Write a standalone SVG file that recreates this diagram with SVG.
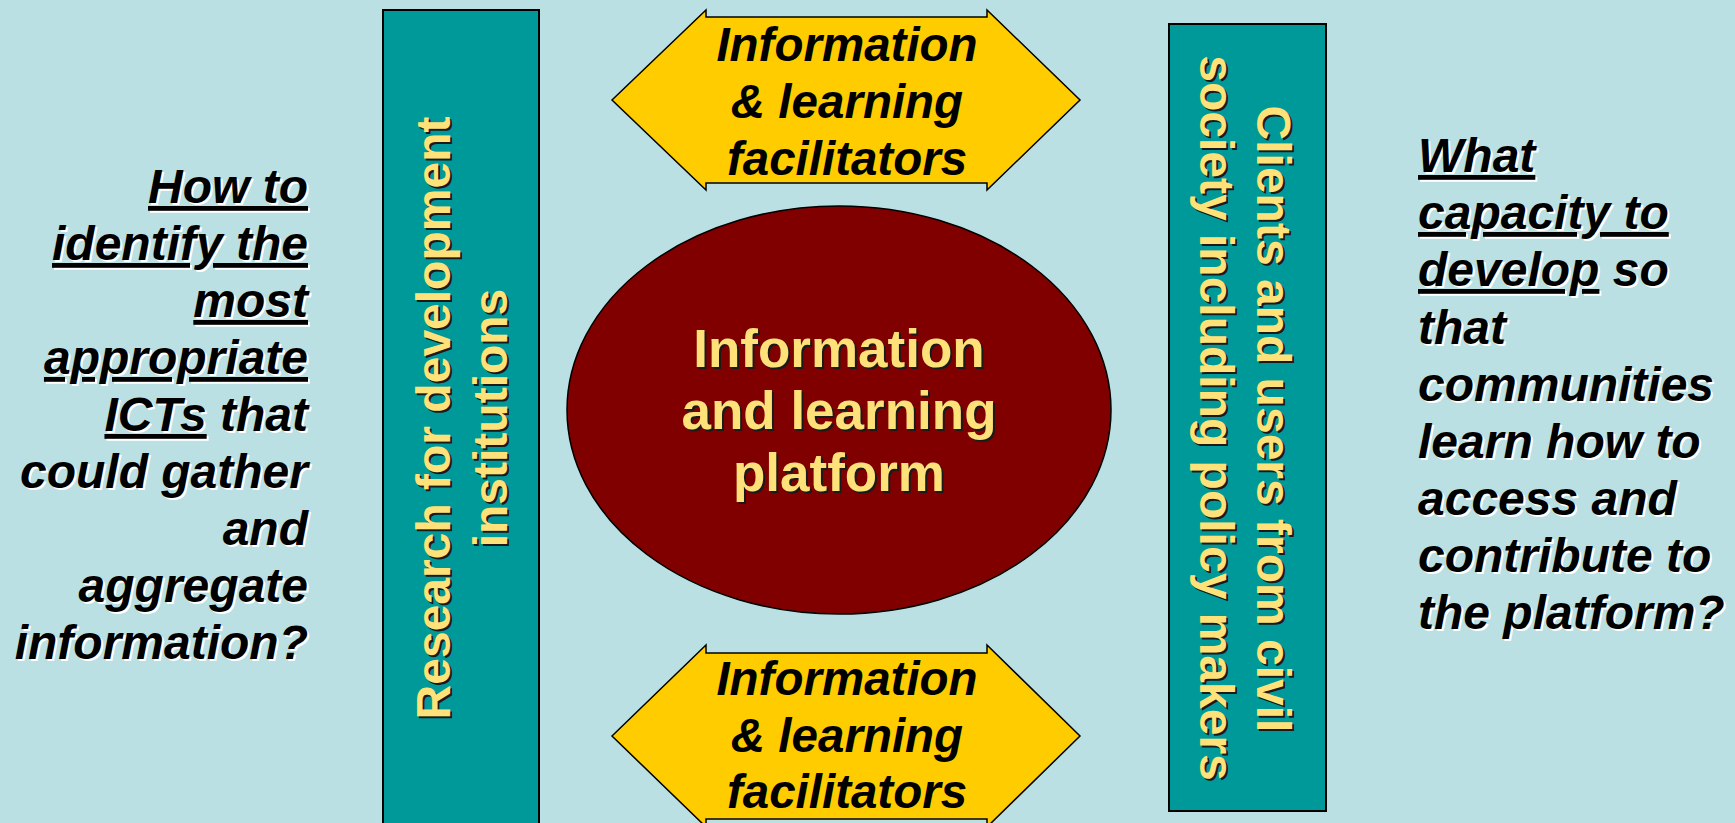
<svg xmlns="http://www.w3.org/2000/svg" xmlns:xlink="http://www.w3.org/1999/xlink" width="1735" height="823" viewBox="0 0 1735 823">
<style>
.bar{fill:#009999;stroke:#000;stroke-width:2}
.arrow{fill:#FFCC00;stroke:#000;stroke-width:1.5;stroke-linejoin:miter}
.ell{fill:#800000;stroke:#000;stroke-width:1.5}
.b{font-family:"Liberation Sans",Arial,sans-serif;font-weight:bold}
.bi{font-family:"Liberation Sans",Arial,sans-serif;font-weight:bold;font-style:italic}
.f48{font-size:48px}
.f47{font-size:47.5px}
.f53{font-size:53px}
.u{text-decoration:underline;text-decoration-thickness:4px;text-underline-offset:5px}
.mid{text-anchor:middle}
.end{text-anchor:end}
</style>
<defs>
<g id="leftQ" class="bi f48 end">
<text x="308" y="203"><tspan class="u">How to</tspan></text>
<text x="308" y="260"><tspan class="u">identify the</tspan></text>
<text x="308" y="317"><tspan class="u">most</tspan></text>
<text x="308" y="374"><tspan class="u">appropriate</tspan></text>
<text x="308" y="431"><tspan class="u">ICTs</tspan> that</text>
<text x="308" y="488">could gather</text>
<text x="308" y="545">and</text>
<text x="308" y="602">aggregate</text>
<text x="308" y="659">information?</text>
</g>
<g id="rightQ" class="bi f48">
<text x="1418" y="172"><tspan class="u">What</tspan></text>
<text x="1418" y="229"><tspan class="u">capacity to</tspan></text>
<text x="1418" y="286"><tspan class="u">develop</tspan> so</text>
<text x="1418" y="344">that</text>
<text x="1418" y="401">communities</text>
<text x="1418" y="458">learn how to</text>
<text x="1418" y="515">access and</text>
<text x="1418" y="572">contribute to</text>
<text x="1418" y="629">the platform?</text>
</g>
<g id="leftBarText" class="b f48 mid">
<text transform="translate(450,418) rotate(-90)">Research for development</text>
<text transform="translate(507,418) rotate(-90)">institutions</text>
</g>
<g id="rightBarText" class="b f48 mid">
<text transform="translate(1257,419) rotate(90)">Clients and users from civil</text>
<text transform="translate(1200,418) rotate(90)">society including policy makers</text>
</g>
<g id="ellText" class="b f53 mid">
<text x="839" y="367">Information</text>
<text x="839" y="429">and learning</text>
<text x="839" y="491">platform</text>
</g>
</defs>
<rect width="1735" height="823" fill="#BAE0E3"/>
<g id="connectors"></g>
<g id="research-bar">
<rect class="bar" x="383" y="10" width="156" height="830"/>
<use xlink:href="#leftBarText" href="#leftBarText" transform="translate(2,2)" fill="#1a1a1a"/>
<use xlink:href="#leftBarText" href="#leftBarText" fill="#FFE17A"/>
</g>
<g id="clients-bar">
<rect class="bar" x="1169" y="24" width="157" height="787"/>
<use xlink:href="#rightBarText" href="#rightBarText" transform="translate(2,2)" fill="#1a1a1a"/>
<use xlink:href="#rightBarText" href="#rightBarText" fill="#FFE17A"/>
</g>
<g id="facilitators-top">
<polygon class="arrow" points="612,100 706,10 706,17 987,17 987,10 1080,100 987,190 987,183 706,183 706,190"/>
<g class="bi f47 mid" fill="#000">
<text x="847" y="61">Information</text>
<text x="847" y="118">&amp; learning</text>
<text x="847" y="175">facilitators</text>
</g>
</g>
<g id="facilitators-bottom">
<polygon class="arrow" points="612,736 706,645 706,653 987,653 987,645 1080,736 987,827 987,819 706,819 706,827"/>
<g class="bi f47 mid" fill="#000">
<text x="847" y="695">Information</text>
<text x="847" y="752">&amp; learning</text>
<text x="847" y="808">facilitators</text>
</g>
</g>
<g id="platform">
<ellipse class="ell" cx="839" cy="410" rx="272" ry="204"/>
<use xlink:href="#ellText" href="#ellText" transform="translate(2,2)" fill="#1a1a1a"/>
<use xlink:href="#ellText" href="#ellText" fill="#FFE17A"/>
</g>
<g id="left-question">
<use xlink:href="#leftQ" href="#leftQ" transform="translate(2,2)" fill="#ffffff"/>
<use xlink:href="#leftQ" href="#leftQ" fill="#000"/>
</g>
<g id="right-question">
<use xlink:href="#rightQ" href="#rightQ" transform="translate(2,2)" fill="#ffffff"/>
<use xlink:href="#rightQ" href="#rightQ" fill="#000"/>
</g>
</svg>
